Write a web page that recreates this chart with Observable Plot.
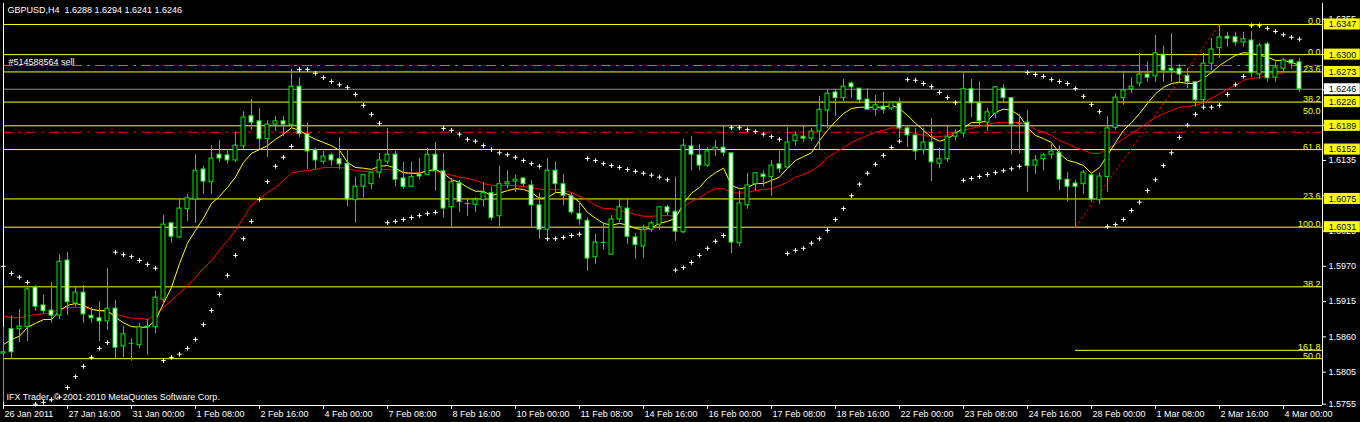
<!DOCTYPE html>
<html>
<head>
<meta charset="utf-8">
<script src="https://cdn.jsdelivr.net/npm/d3@7"></script>
<script src="https://cdn.jsdelivr.net/npm/@observablehq/plot@0.6"></script>
<style>
html,body{margin:0;padding:0;background:#000;overflow:hidden}
#chart svg{display:block}
</style>
</head>
<body>
<div id="chart"></div>
<script>
// ---------- data ----------
const chartTitle = "GBPUSD,H4  1.6288 1.6294 1.6241 1.6246";
const copyrightText = "IFX Trader, © 2001-2010 MetaQuotes Software Corp.";
const orderLabel = "#514588564 sell";

const opens = [
1.5834,1.5872,1.5872,1.5875,1.5937,1.5909,1.5901,1.5893,1.5979,1.5912,
1.5929,1.5893,1.5889,1.5884,1.5904,1.5845,1.5850,1.5847,1.5875,1.5875,
1.5918,1.6037,1.6015,1.6059,1.6074,1.6121,1.6101,1.6144,1.6143,1.6135,
1.6157,1.6204,1.6196,1.6168,1.6191,1.6196,1.6190,1.6250,1.6176,1.6151,
1.6133,1.6143,1.6137,1.6130,1.6073,1.6094,1.6098,1.6116,1.6133,1.6144,
1.6107,1.6094,1.6113,1.6112,1.6144,1.6118,1.6062,1.6099,1.6068,1.6066,
1.6073,1.6084,1.6048,1.6098,1.6102,1.6107,1.6096,1.6065,1.6027,1.6119,
1.6098,1.6079,1.6052,1.6041,1.5984,1.6007,1.5988,1.6043,1.6060,1.6015,
1.6001,1.6027,1.6035,1.6062,1.6055,1.6023,1.6157,1.6143,1.6127,1.6151,
1.6155,1.6146,1.6006,1.6065,1.6098,1.6113,1.6109,1.6129,1.6124,1.6165,
1.6172,1.6169,1.6180,1.6213,1.6241,1.6232,1.6255,1.6247,1.6230,1.6214,
1.6219,1.6216,1.6224,1.6185,1.6174,1.6151,1.6163,1.6130,1.6137,1.6172,
1.6177,1.6246,1.6225,1.6194,1.6208,1.6247,1.6232,1.6193,1.6194,1.6127,
1.6137,1.6144,1.6147,1.6105,1.6099,1.6098,1.6112,1.6073,1.6109,1.6186,
1.6232,1.6246,1.6255,1.6269,1.6266,1.6300,1.6278,1.6278,1.6267,1.6257,
1.6229,1.6286,1.6310,1.6328,1.6327,1.6319,1.6322,1.6269,1.6316,1.6264,
1.6278,1.6291,1.6288];

const highs = [
1.5875,1.5893,1.5903,1.5937,1.5940,1.5925,1.5945,1.5988,1.5992,1.5937,
1.5940,1.5906,1.5915,1.5967,1.5917,1.5876,1.5857,1.5881,1.5887,1.5931,
1.6049,1.6038,1.6076,1.6082,1.6144,1.6126,1.6158,1.6166,1.6152,1.6179,
1.6211,1.6230,1.6216,1.6197,1.6204,1.6204,1.6277,1.6264,1.6193,1.6154,
1.6149,1.6146,1.6171,1.6152,1.6109,1.6112,1.6116,1.6146,1.6185,1.6149,
1.6132,1.6132,1.6138,1.6154,1.6163,1.6146,1.6107,1.6104,1.6076,1.6077,
1.6101,1.6093,1.6126,1.6119,1.6112,1.6107,1.6104,1.6084,1.6138,1.6133,
1.6113,1.6084,1.6070,1.6045,1.6020,1.6037,1.6049,1.6074,1.6076,1.6021,
1.6034,1.6040,1.6063,1.6065,1.6109,1.6168,1.6172,1.6160,1.6155,1.6166,
1.6190,1.6147,1.6087,1.6115,1.6116,1.6119,1.6135,1.6149,1.6186,1.6180,
1.6190,1.6185,1.6235,1.6246,1.6246,1.6261,1.6257,1.6247,1.6247,1.6236,
1.6241,1.6227,1.6232,1.6188,1.6185,1.6185,1.6200,1.6154,1.6190,1.6183,
1.6272,1.6261,1.6258,1.6216,1.6250,1.6253,1.6233,1.6207,1.6213,1.6143,
1.6146,1.6160,1.6158,1.6116,1.6104,1.6119,1.6115,1.6116,1.6204,1.6239,
1.6272,1.6264,1.6302,1.6289,1.6330,1.6313,1.6333,1.6285,1.6278,1.6258,
1.6302,1.6325,1.6347,1.6335,1.6335,1.6335,1.6336,1.6317,1.6319,1.6289,
1.6294,1.6292,1.6294];

const lows = [
1.5758,1.5825,1.5851,1.5853,1.5900,1.5896,1.5881,1.5887,1.5893,1.5906,
1.5881,1.5881,1.5853,1.5870,1.5826,1.5828,1.5822,1.5842,1.5831,1.5865,
1.5914,1.6006,1.6013,1.6040,1.6037,1.6082,1.6082,1.6132,1.6129,1.6132,
1.6152,1.6182,1.6152,1.6140,1.6180,1.6172,1.6185,1.6171,1.6121,1.6121,
1.6129,1.6126,1.6121,1.6063,1.6037,1.6077,1.6090,1.6107,1.6129,1.6094,
1.6090,1.6094,1.6105,1.6112,1.6087,1.6046,1.6029,1.6054,1.6048,1.6054,
1.6062,1.6041,1.6032,1.6091,1.6085,1.6093,1.6029,1.6012,1.6016,1.6085,
1.6065,1.6051,1.6034,1.5962,1.5973,1.5996,1.5988,1.6038,1.6004,1.5981,
1.5982,1.6023,1.6026,1.6049,1.6009,1.6021,1.6119,1.6119,1.6124,1.6141,
1.6141,1.5990,1.6001,1.6059,1.6087,1.6093,1.6079,1.6115,1.6121,1.6157,
1.6163,1.6165,1.6152,1.6185,1.6204,1.6227,1.6232,1.6224,1.6213,1.6204,
1.6208,1.6213,1.6169,1.6155,1.6135,1.6143,1.6102,1.6122,1.6132,1.6165,
1.6171,1.6202,1.6188,1.6180,1.6200,1.6224,1.6144,1.6146,1.6085,1.6113,
1.6119,1.6137,1.6088,1.6070,1.6031,1.6082,1.6070,1.6066,1.6085,1.6182,
1.6221,1.6239,1.6250,1.6257,1.6257,1.6257,1.6257,1.6255,1.6247,1.6218,
1.6221,1.6275,1.6294,1.6311,1.6313,1.6311,1.6264,1.6261,1.6257,1.6257,
1.6272,1.6277,1.6241];

const closes = [
1.5836,1.5836,1.5876,1.5934,1.5907,1.5900,1.5893,1.5977,1.5914,1.5929,
1.5895,1.5889,1.5884,1.5904,1.5843,1.5864,1.5850,1.5875,1.5876,1.5921,
1.6035,1.6016,1.6060,1.6076,1.6119,1.6102,1.6138,1.6138,1.6135,1.6158,
1.6202,1.6194,1.6168,1.6191,1.6196,1.6191,1.6250,1.6176,1.6149,1.6135,
1.6141,1.6135,1.6129,1.6074,1.6094,1.6112,1.6116,1.6135,1.6144,1.6105,
1.6094,1.6109,1.6110,1.6144,1.6119,1.6060,1.6101,1.6070,1.6068,1.6073,
1.6084,1.6045,1.6098,1.6101,1.6105,1.6098,1.6065,1.6027,1.6119,1.6098,
1.6080,1.6054,1.6043,1.5982,1.6007,1.6007,1.6043,1.6062,1.6016,1.6003,
1.6027,1.6037,1.6062,1.6054,1.6024,1.6158,1.6144,1.6127,1.6149,1.6155,
1.6147,1.6007,1.6068,1.6096,1.6115,1.6109,1.6127,1.6122,1.6163,1.6174,
1.6169,1.6180,1.6214,1.6239,1.6232,1.6250,1.6249,1.6229,1.6214,1.6221,
1.6214,1.6225,1.6185,1.6174,1.6149,1.6163,1.6132,1.6137,1.6171,1.6177,
1.6246,1.6224,1.6196,1.6210,1.6249,1.6232,1.6191,1.6193,1.6126,1.6135,
1.6143,1.6149,1.6105,1.6094,1.6094,1.6116,1.6074,1.6110,1.6185,1.6233,
1.6244,1.6250,1.6269,1.6264,1.6302,1.6275,1.6275,1.6269,1.6257,1.6229,
1.6286,1.6308,1.6327,1.6325,1.6319,1.6324,1.6271,1.6314,1.6263,1.6280,
1.6291,1.6286,1.6246];

// fast moving average (yellow), one value per bar
const fastMA = [
1.5848,1.5856,1.5861,1.5875,1.5881,1.5887,1.5887,1.5901,1.5909,1.5912,
1.5909,1.5903,1.5901,1.5901,1.5890,1.5882,1.5876,1.5875,1.5875,1.5886,
1.5912,1.5937,1.5974,1.6006,1.6026,1.6045,1.6068,1.6079,1.6093,
1.6109,1.6132,1.6146,1.6152,1.6158,1.6168,1.6176,1.6186,1.6182,1.6174,
1.6168,1.6163,1.6158,1.6151,1.6132,1.6124,1.6123,1.6121,1.6126,1.6127,
1.6123,1.6116,1.6115,1.6115,1.6119,1.6121,1.6115,1.6105,
1.6101,1.6093,1.6087,1.6087,1.6080,1.6084,1.6088,1.6091,1.6090,1.6085,
1.6076,1.6077,1.6085,1.6085,1.6080,1.6070,1.6054,1.6045,1.6037,1.6034,
1.6037,1.6034,1.6029,1.6027,1.6030,1.6037,1.6040,1.6045,
1.6068,1.6084,1.6093,1.6107,1.6116,1.6123,1.6096,1.6091,1.6093,1.6099,
1.6099,1.6104,1.6109,1.6123,1.6135,1.6141,1.6147,1.6166,1.6182,1.6196,
1.6208,1.6216,1.6218,1.6218,1.6218,1.6218,
1.6221,1.6216,1.6205,1.6193,1.6182,1.6171,1.6165,1.6169,1.6177,1.6186,
1.6194,1.6194,1.6197,1.6210,1.6215,1.6213,1.6205,1.6186,1.6174,1.6169,
1.6163,1.6146,1.6135,1.6132,1.6127,1.6115,
1.6124,1.6143,1.6163,1.6182,1.6194,1.6208,1.6224,1.6239,1.6249,1.6255,
1.6257,1.6255,1.6255,1.6263,1.6272,1.6283,1.6291,1.6299,1.6303,1.6302,
1.6299,1.6296,1.6291,1.6291,1.6288,1.6283];

// slow moving average (red), visible up to bar 160
const slowMA = [
1.5892,1.5890,1.5890,1.5892,1.5895,1.5896,1.5898,1.5903,1.5906,1.5906,
1.5906,1.5903,1.5901,1.5898,1.5895,1.5892,1.5889,1.5889,1.5887,1.5895,
1.5906,1.5917,1.5928,1.5940,1.5953,1.5967,1.5979,1.5995,1.6010,
1.6026,1.6046,1.6065,1.6076,1.6085,1.6093,1.6104,1.6115,1.6118,1.6119,
1.6121,1.6124,1.6124,1.6124,1.6123,1.6119,1.6118,1.6118,1.6121,1.6121,
1.6119,1.6116,1.6115,1.6116,1.6119,1.6118,1.6115,1.6112,
1.6109,1.6107,1.6104,1.6099,1.6096,1.6096,1.6096,1.6096,1.6094,1.6093,
1.6090,1.6090,1.6090,1.6088,1.6085,1.6079,1.6073,1.6065,1.6060,1.6060,
1.6057,1.6054,1.6051,1.6048,1.6048,1.6049,1.6049,1.6048,
1.6062,1.6071,1.6077,1.6085,1.6091,1.6091,1.6085,1.6084,1.6085,1.6088,
1.6090,1.6091,1.6096,1.6101,1.6109,1.6113,1.6119,1.6127,1.6140,1.6147,
1.6155,1.6163,1.6169,1.6174,1.6179,1.6182,
1.6186,1.6185,1.6180,1.6177,1.6174,1.6172,1.6172,1.6174,1.6179,1.6182,
1.6185,1.6188,1.6191,1.6194,1.6194,1.6194,1.6194,1.6191,1.6183,1.6179,
1.6174,1.6166,1.6161,1.6155,1.6151,1.6146,
1.6146,1.6154,1.6160,1.6169,1.6177,1.6185,1.6194,1.6202,1.6208,1.6213,
1.6218,1.6219,1.6221,1.6225,1.6232,1.6239,1.6246,1.6252,1.6260,1.6263,
1.6264,1.6269,1.6271,1.6271];

// parabolic SAR dots, one per bar
const sarDots = [
1.5970,1.5959,1.5953,1.5945,
1.5755,1.5758,1.5762,1.5766,1.5781,1.5798,1.5814,1.5828,1.5842,1.5851,
1.5992,1.5988,1.5985,1.5979,1.5973,1.5967,
1.5823,1.5828,1.5833,1.5842,1.5856,1.5879,1.5901,1.5926,1.5956,1.5987,1.6013,1.6040,1.6074,1.6102,1.6126,1.6140,1.6157,
1.6277,1.6277,1.6271,1.6264,1.6258,1.6253,1.6249,1.6238,1.6221,1.6207,1.6193,
1.6038,1.6040,1.6043,1.6046,1.6049,1.6052,1.6054,
1.6185,1.6182,1.6176,1.6168,1.6165,1.6158,1.6152,1.6147,1.6144,1.6140,1.6135,1.6130,1.6126,
1.6013,1.6013,1.6015,1.6018,1.6020,
1.6138,1.6135,1.6130,1.6127,1.6124,1.6121,1.6118,1.6115,1.6112,1.6109,1.6105,
1.5964,1.5968,1.5976,1.5987,1.5998,1.6009,1.6018,
1.6186,1.6186,1.6183,1.6180,1.6176,1.6172,1.6168,
1.5990,1.5995,1.5998,1.6006,1.6013,1.6026,1.6043,1.6060,1.6080,1.6098,1.6115,1.6129,1.6143,1.6155,1.6165,
1.6261,1.6260,1.6255,1.6250,1.6241,1.6233,1.6225,
1.6104,1.6107,1.6110,1.6113,1.6116,1.6119,1.6122,1.6126,
1.6272,1.6269,1.6266,1.6261,1.6258,1.6255,1.6247,1.6235,1.6222,1.6211,
1.6032,1.6035,1.6043,1.6057,1.6070,1.6088,1.6105,1.6127,1.6147,1.6171,1.6190,1.6207,1.6218,1.6218,1.6221,1.6238,1.6253,1.6266,
1.6345,1.6345,1.6341,1.6336,1.6331,1.6327,1.6324];

// time axis
const timeTickBars = [0,8,16,24,32,40,48,56,64,72,80,88,96,104,112,120,128,136,144,152,160];
const timeTickLabels = ["26 Jan 2011","27 Jan 16:00","31 Jan 00:00","1 Feb 08:00","2 Feb 16:00",
"4 Feb 00:00","7 Feb 08:00","8 Feb 16:00","10 Feb 00:00","11 Feb 08:00","14 Feb 16:00",
"16 Feb 00:00","17 Feb 08:00","18 Feb 16:00","22 Feb 00:00","23 Feb 08:00","24 Feb 16:00",
"28 Feb 00:00","1 Mar 08:00","2 Mar 16:00","4 Mar 00:00"];

// price axis
const priceTicks = [1.6355,1.6300,1.6245,1.6190,1.6135,1.6080,1.6025,1.5970,1.5915,1.5860,1.5805,1.5755];

// Fibonacci levels
const fibLevels = [1.6347,1.6300,1.6273,1.6226,1.6189,1.6152,1.6075,1.6031,1.5938,1.5826];
const fibNames  = ["0.0","0.0","23.6","38.2","50.0","61.8","23.6","100.0","38.2","50.0"];
const fibTextLevels = [1.6347,1.6300,1.6273,1.6226,1.6208,1.6152,1.6075,1.6031,1.5938,1.5826];
const fibBoxed = [1.6347,1.6300,1.6273,1.6226,1.6189,1.6152,1.6075,1.6031];
const extLevel = [1.5839];
const extName = ["161.8"];
const extStartBar = 134;

// other lines
const bidPrice = [1.6246];
const stopLevel = [1.6179];
const orderLevel = [1.6283];
const trendBars = [134, 152];
const trendPrices = [1.6031, 1.6347];

// ---------- drawing ----------
const XMAX = 164.875;
const YDOM = [1.5753, 1.63797];
const GREEN = "#00ee00";
const FONT = "Liberation Sans, Arial, sans-serif";
const FS = 9;

const bars = opens.map((o, i) => ({i, o, h: highs[i], l: lows[i], c: closes[i]}));
const bearBars = bars.filter(d => d.c < d.o);
const bullBars = bars.filter(d => d.c > d.o);
const dojiBars = bars.filter(d => d.c === d.o);
const fastPts = fastMA.map((v, i) => ({i, v}));
const slowPts = slowMA.map((v, i) => ({i, v}));
const sarPts = sarDots.map((v, i) => ({i, v}));
const trendPts = trendBars.map((b, k) => ({i: b, v: trendPrices[k]}));
const tickPts = timeTickBars.map((b, k) => ({i: b, label: timeTickLabels[k]}));

const chart = Plot.plot({
  width: 1360,
  height: 422,
  marginLeft: 3,
  marginRight: 38,
  marginTop: 3,
  marginBottom: 17,
  style: {background: "#000", color: "#fff", fontFamily: FONT, fontSize: FS + "px"},
  x: {type: "linear", domain: [0, XMAX], axis: null},
  y: {type: "linear", domain: YDOM, axis: null},
  marks: [
    // horizontal objects
    Plot.ruleY(fibLevels, {y: d => d, stroke: "#ffff00", strokeWidth: 1}),
    Plot.ruleY(extLevel, {y: d => d, x1: extStartBar, x2: XMAX, stroke: "#ffff00", strokeWidth: 1}),
    Plot.ruleY(bidPrice, {y: d => d, stroke: "#8c8c8c", strokeWidth: 1}),
    Plot.ruleY(stopLevel, {y: d => d, stroke: "#ff0000", strokeWidth: 1, strokeDasharray: "10,5,3,5"}),
    Plot.ruleY(orderLevel, {y: d => d, stroke: "#22b822", strokeWidth: 1, strokeDasharray: "10,5,3,5"}),
    Plot.line(trendPts, {x: "i", y: "v", stroke: "#ff0000", strokeWidth: 1, strokeDasharray: "2,3"}),

    // indicators
    Plot.line(slowPts, {x: "i", y: "v", stroke: "#ff0000", strokeWidth: 1}),
    Plot.line(fastPts, {x: "i", y: "v", stroke: "#ffff00", strokeWidth: 1}),
    Plot.dot(sarPts, {x: "i", y: "v", symbol: "plus", r: 1.6, stroke: "#ffffff", strokeWidth: 1}),

    // frame
    Plot.ruleX([0, XMAX], {x: d => d, stroke: "#fff", strokeWidth: 1}),
    Plot.ruleY([YDOM[0]], {y: d => d, stroke: "#fff", strokeWidth: 1}),

    // candles
    Plot.ruleX(bars, {x: "i", y1: "l", y2: "h", stroke: GREEN, strokeWidth: 1}),
    Plot.rect(bearBars, {x1: d => d.i - 0.25, x2: d => d.i + 0.25, y1: "o", y2: "c", fill: "#fff", stroke: GREEN, strokeWidth: 1}),
    Plot.rect(bullBars, {x1: d => d.i - 0.25, x2: d => d.i + 0.25, y1: "o", y2: "c", fill: "#000", stroke: GREEN, strokeWidth: 1}),
    Plot.ruleY(dojiBars, {y: "o", x1: d => d.i - 0.3, x2: d => d.i + 0.3, stroke: GREEN, strokeWidth: 1}),

    // time axis ticks + labels
    Plot.ruleX(tickPts, {x: "i", y1: YDOM[0], y2: YDOM[0] - 0.0006, stroke: "#fff"}),
    Plot.text(tickPts, {x: "i", frameAnchor: "bottom", text: "label",
      textAnchor: "start", lineAnchor: "middle", dx: 1, dy: 9, fill: "#fff", fontSize: FS}),

    // price axis
    Plot.axisY({anchor: "right", ticks: priceTicks, tickFormat: d => d.toFixed(4), tickSize: 3, tickPadding: 3,
      stroke: "#fff", fill: "#fff", fontSize: FS, label: null}),

    // price boxes
    Plot.rect(fibBoxed, {x1: 165.1, x2: 169.6, y1: d => d - 0.00086, y2: d => d + 0.00086, fill: "#ffff00"}),
    Plot.text(fibBoxed, {x: 165.65, y: d => d, text: d => d.toFixed(4), textAnchor: "start", fill: "#000", fontSize: FS}),
    Plot.rect(bidPrice, {x1: 165.1, x2: 169.6, y1: d => d - 0.00086, y2: d => d + 0.00086, fill: "#ffffff"}),
    Plot.text(bidPrice, {x: 165.65, y: d => d, text: d => d.toFixed(4), textAnchor: "start", fill: "#000", fontSize: FS}),

    // fib level names
    Plot.text(fibTextLevels, {x: XMAX, y: d => d, text: (d, k) => fibNames[k], textAnchor: "end", lineAnchor: "bottom",
      dx: -2, dy: 0, fill: "#ffff00", fontSize: FS}),
    Plot.text(extLevel, {x: XMAX, y: d => d, text: (d, k) => extName[k], textAnchor: "end", lineAnchor: "bottom",
      dx: -2, dy: 0, fill: "#ffff00", fontSize: FS}),

    // texts
    Plot.text(orderLevel, {x: 0, y: d => d, text: () => orderLabel, textAnchor: "start", lineAnchor: "bottom",
      dx: 5, dy: -1, fill: "#ffffff", fontSize: FS}),
    Plot.text([chartTitle], {frameAnchor: "top-left", text: d => d, textAnchor: "start", lineAnchor: "top",
      dx: 4, dy: 3, fill: "#ffffff", fontSize: FS}),
    Plot.text([copyrightText], {frameAnchor: "bottom-left", text: d => d, textAnchor: "start", lineAnchor: "middle",
      dx: 3, dy: -8, fill: "#ffffff", fontSize: FS})
  ]
});
document.getElementById("chart").appendChild(chart);
</script>
</body>
</html>
